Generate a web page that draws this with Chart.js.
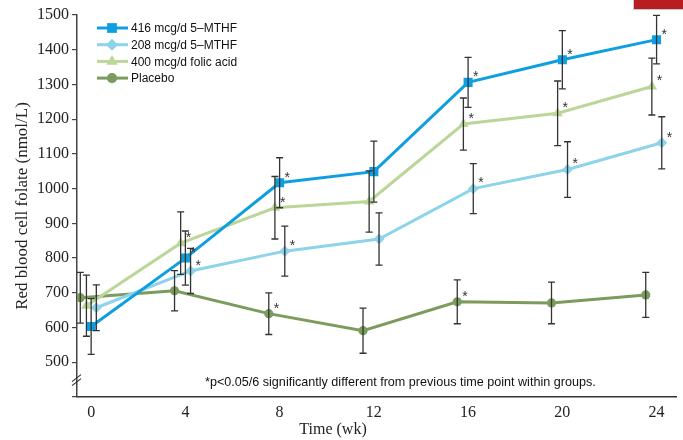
<!DOCTYPE html>
<html>
<head>
<meta charset="utf-8">
<script src="https://cdn.jsdelivr.net/npm/chart.js@4"></script>
<style>
  body { margin: 0; background: #fff; }
  #wrap { position: relative; width: 683px; height: 440px; }
  #tag { position: absolute; left: 633px; top: 0; width: 49px; height: 9px;
         background: #b81d22; border: 1px solid #c8c8c8; border-top: none; }
</style>
</head>
<body>
<div id="wrap">
  <canvas id="folChart" width="683" height="440"></canvas>
  <div id="tag"></div>
</div>
<script>
/* --- Data ---------------------------------------------------------------- */
const weeks      = [0, 4, 8, 12, 16, 20, 24];
const xTickVals  = [0, 4, 8, 12, 16, 20, 24];
const yTickVals  = [500, 600, 700, 800, 900, 1000, 1100, 1200, 1300, 1400, 1500];

const mthf416     = [603, 800, 1017, 1049, 1306, 1371, 1429];
const mthf416Err  = [80, 78, 72, 88, 72, 84, 70];
const mthf416Sig  = [0, 1, 1, 0, 1, 1, 1];

const mthf208     = [657, 763, 820, 855, 1000, 1055, 1132];
const mthf208Err  = [66, 65, 72, 75, 72, 80, 75];
const mthf208Sig  = [0, 1, 1, 0, 1, 1, 1];

const folic400    = [663, 843, 945, 963, 1186, 1217, 1294];
const folic400Err = [88, 90, 90, 88, 75, 93, 82];
const folic400Sig = [0, 1, 1, 0, 1, 1, 1];

const placebo     = [686, 706, 640, 591, 674, 671, 694];
const placeboErr  = [73, 58, 60, 65, 63, 60, 65];
const placeboSig  = [0, 0, 1, 0, 1, 0, 0];

const footnote = '*p<0.05/6 significantly different from previous time point within groups.';

/* --- Helpers ------------------------------------------------------------- */
// series are drawn slightly apart on the time axis, like the original figure
function series(label, vals, err, sig, dodge, colour, style, radius) {
  return {
    label, err, sig,
    data: weeks.map((w, i) => ({ x: w + dodge, y: vals[i] })),
    borderColor: colour, backgroundColor: colour, borderWidth: 3,
    pointStyle: style, pointRadius: radius, pointHoverRadius: radius,
    pointBorderWidth: 0, tension: 0
  };
}

const serif = 'Liberation Serif, Times New Roman, serif';
const sans  = 'Liberation Sans, Arial, sans-serif';

/* --- Plugins ------------------------------------------------------------- */
const extras = {
  id: 'extras',
  afterDatasetsDraw(chart) {
    const { ctx, scales: { x, y } } = chart;
    ctx.save();
    // error bars + asterisks
    chart.data.datasets.forEach((ds, di) => {
      const meta = chart.getDatasetMeta(di);
      meta.data.forEach((pt, i) => {
        const v = ds.data[i].y, e = ds.err[i];
        const top = y.getPixelForValue(v + e), bot = y.getPixelForValue(v - e);
        ctx.strokeStyle = '#333'; ctx.lineWidth = 1.3;
        ctx.beginPath();
        ctx.moveTo(pt.x, top); ctx.lineTo(pt.x, bot);
        ctx.moveTo(pt.x - 3.5, top); ctx.lineTo(pt.x + 3.5, top);
        ctx.moveTo(pt.x - 3.5, bot); ctx.lineTo(pt.x + 3.5, bot);
        ctx.stroke();
        if (ds.sig[i]) {
          ctx.fillStyle = '#333'; ctx.font = '14px ' + sans;
          ctx.textAlign = 'left'; ctx.textBaseline = 'middle';
          ctx.fillText('*', pt.x + 5, pt.y - 5);
        }
      });
    });
    // legend in the top-left corner
    chart.data.datasets.forEach((ds, i) => {
      const ly = 28 + i * 16.7;
      ctx.strokeStyle = ds.borderColor; ctx.lineWidth = 3;
      ctx.beginPath(); ctx.moveTo(97, ly); ctx.lineTo(128, ly); ctx.stroke();
      ctx.fillStyle = ds.backgroundColor;
      Chart.helpers.drawPoint(ctx, { pointStyle: ds.pointStyle, radius: ds.pointRadius + 0.5,
        rotation: 0, borderWidth: 0 }, 112, ly);
      ctx.fillStyle = '#111'; ctx.font = '12px ' + sans;
      ctx.textAlign = 'left'; ctx.textBaseline = 'middle';
      ctx.fillText(ds.label, 131, ly + 1);
    });
    // footnote
    ctx.fillStyle = '#111'; ctx.font = '12.6px ' + sans;
    ctx.textAlign = 'left'; ctx.textBaseline = 'middle';
    ctx.fillText(footnote, 205, 383);
    // axis break mark
    const bx = x.left, by = y.getPixelForValue(450);
    ctx.strokeStyle = '#333'; ctx.lineWidth = 1.2;
    ctx.beginPath();
    ctx.moveTo(bx - 5, by + 2); ctx.lineTo(bx + 4, by - 5);
    ctx.moveTo(bx - 5, by + 6); ctx.lineTo(bx + 4, by - 1);
    ctx.stroke();
    // x title
    ctx.fillStyle = '#222'; ctx.font = '16px ' + serif;
    ctx.textAlign = 'center'; ctx.textBaseline = 'middle';
    ctx.fillText('Time (wk)', 333, 430);
    ctx.restore();
  }
};

/* --- Chart --------------------------------------------------------------- */
const chart = new Chart(document.getElementById('folChart'), {
  type: 'line',
  data: { datasets: [
    series('416 mcg/d 5\u2013MTHF', mthf416, mthf416Err, mthf416Sig, 0, '#0f9fe0', 'rect', 6.4),
    series('208 mcg/d 5\u2013MTHF', mthf208, mthf208Err, mthf208Sig, 0.22, '#8dd3ea', 'rectRot', 5.5),
    series('400 mcg/d folic acid', folic400, folic400Err, folic400Sig, -0.2, '#bcd699', 'triangle', 6),
    series('Placebo', placebo, placeboErr, placeboSig, -0.46, '#7b9c5d', 'circle', 4.6)
  ]},
  options: {
    responsive: false, animation: false,
    layout: { padding: { top: 15, right: 6, left: 0, bottom: 0 } },
    plugins: { legend: { display: false }, tooltip: { enabled: false } },
    scales: {
      x: {
        type: 'linear', min: -0.6, max: 24.85,
        afterBuildTicks: s => { s.ticks = xTickVals.map(v => ({ value: v })); },
        afterFit: s => { s.height = 43; },
        grid: { display: false, drawTicks: false },
        border: { display: true, color: '#333', width: 1.5 },
        ticks: { color: '#222', font: { family: serif, size: 16 }, padding: 6,
                 maxRotation: 0, minRotation: 0 }
      },
      y: {
        min: 400, max: 1500,
        afterBuildTicks: s => { s.ticks = [400].concat(yTickVals).map(v => ({ value: v })); },
        afterFit: s => { s.width = 77; },
        grid: { display: true, drawOnChartArea: false, drawTicks: true, tickLength: 5,
                color: '#444', lineWidth: 1.2 },
        border: { display: true, color: '#444', width: 1.5 },
        ticks: { color: '#222', font: { family: serif, size: 16 }, padding: 3,
                 callback: v => (v === 400 ? '' : v) },
        title: { display: true, text: 'Red blood cell folate (nmol/L)', color: '#222',
                 font: { family: serif, size: 17 }, padding: { top: 12, bottom: 0 } }
      }
    }
  },
  plugins: [extras]
});
</script>
</body>
</html>
